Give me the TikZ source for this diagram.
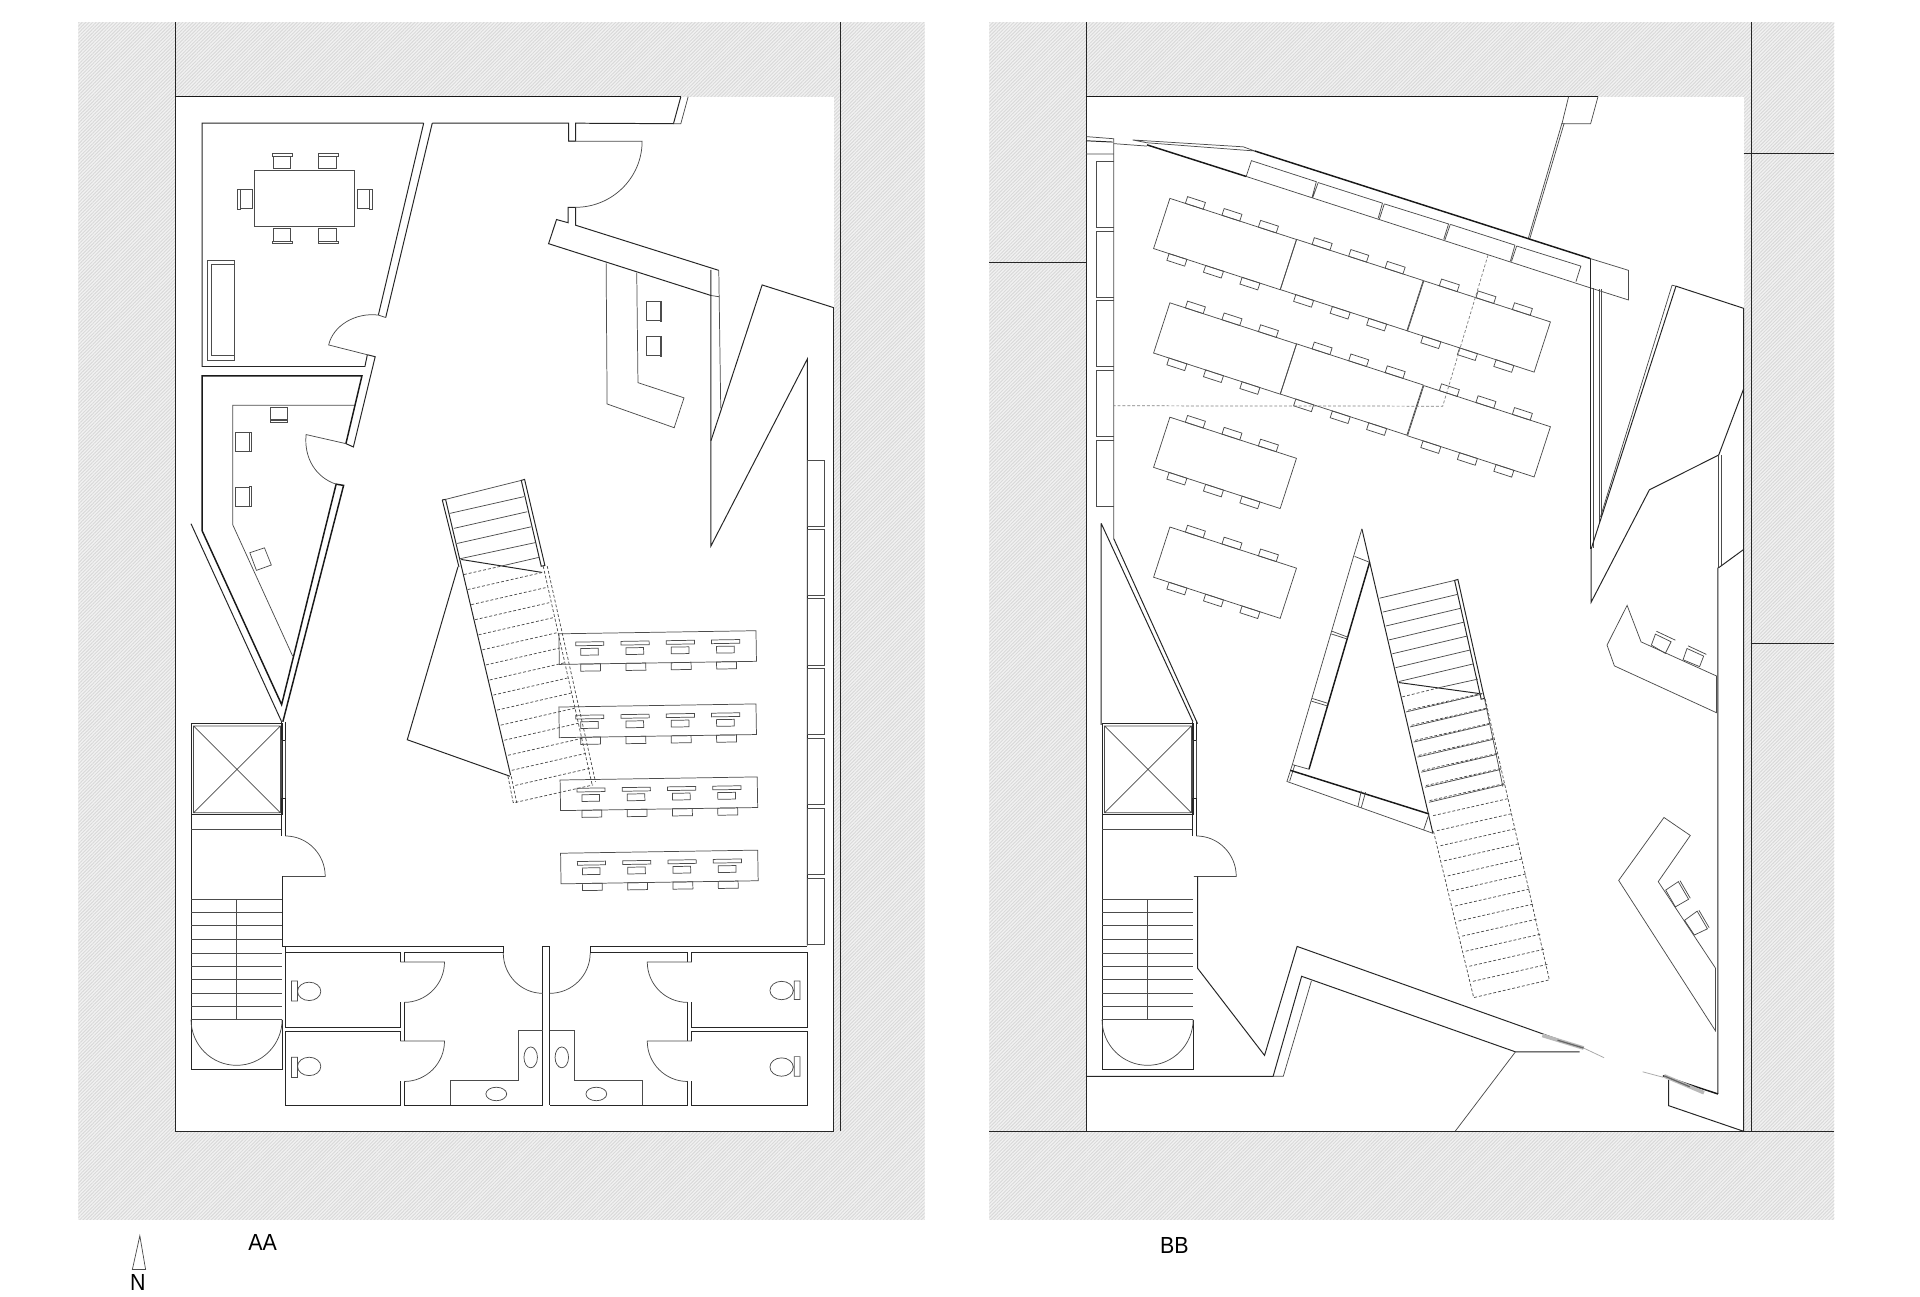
\documentclass[tikz,border=0pt]{standalone}
\usepackage{fontspec}
\setmainfont{Liberation Sans}
\usetikzlibrary{patterns.meta}
\tikzset{
    hatchpanel/.style={fill=gray!10, postaction={pattern={Lines[angle=45,distance=2pt,line width=.8pt]}, pattern color=gray!30}},
    wallline/.style={line width=.8pt, black!85},
    heavyline/.style={line width=1.2pt, black!90},
    thinline/.style={line width=.6pt, black!70},
    greyline/.style={line width=.6pt, gray!70},
    dashline/.style={line width=.6pt, black!70, dash pattern=on 2.4pt off 1.6pt},
    planlabel/.style={font=\fontsize{19}{19}\selectfont, xscale=.92, inner sep=0pt},
    deskrow/.pic={
        \draw[thinline] (0,0) rectangle (161,25);
        \foreach \k in {0,1,2,3} {
            \draw[thinline] (13.6+37*\k,7) rectangle ++(23,3);
            \draw[thinline] (17.6+37*\k,12.3) rectangle ++(14.4,5.5);
            \draw[thinline] (17.4+37*\k,25) rectangle ++(16.2,5.8);
        }
    },
    tablebay/.pic={
        \draw[thinline] (0,0) rectangle (108.7,43.1);
        \foreach \k in {13.3,44.7,76} {
            \draw[thinline] (\k,0) rectangle ++(15.3,-5.8);
            \draw[thinline] (\k,43.1) rectangle ++(15.3,5.8);
        }
    },
    corestair/.pic={
        \draw[wallline] (156,591) -- (156,873) -- (230.5,873) -- (230.5,833);
        \draw[wallline] (156,591) rectangle (231,665.5);
        \draw[thinline] (158,592.8) rectangle (229,663.8) (158,592.8) -- (229,663.8) (229,592.8) -- (158,663.8);
        \draw[thinline] (156,677.5) -- (230,677.5);
        \draw[wallline] (230,589.4) -- (230,604.4) -- (233,604.4) -- (233,589.4);
        \draw[thinline] (230,604.4) -- (230,652) (233,604.4) -- (233,652);
        \draw[wallline] (230,682.7) -- (230,652) -- (233,652) -- (233,682.7);
        \draw[thinline] (233,682.7) arc [start angle=90, end angle=0, x radius=32.6pt, y radius=33pt] -- (231,715.7);
        \draw[thinline] (156,734.4) -- (230.5,734.4) (193,734.4) -- (193,832.6);
        \foreach \y in {745.4,756.1,767.1,778.2,789.1,800,811,821.6,832.6} {
            \draw[thinline] (156,\y) -- (230.5,\y);
        }
        \draw[thinline] (156,832.6) arc [start angle=180, end angle=360, x radius=37.2pt, y radius=37.4pt];
    },
}

\begin{document}
\begin{tikzpicture}[x=1pt, y=-1pt]
            \useasboundingbox (0,0) rectangle (1568,1058.4);
            \path[hatchpanel] (64,18) rectangle (755,996);
            \path[hatchpanel] (808,18) rectangle (1498,996);
            \fill[white] (143,79) rectangle (681,924);
            \fill[white] (887,79) rectangle (1424,924);

            \draw[wallline] (143,18) -- (143,924) -- (681,924) -- (681,251.3);
            \draw[wallline] (686,18) -- (686,924);
            \draw[heavyline] (143,79) -- (556,79);

            \draw[wallline] (556,79) -- (550,101) -- (470,100.6) -- (470,115.3);
            \draw[thinline] (562,79) -- (556,101) -- (550,101);
            \draw[wallline] (346,100.6) -- (165,100.6) -- (165,299.3) -- (298,299.3) -- (300,289.7);
            \draw[wallline] (346,100.6) -- (309,257.3) (353,100.6) -- (315,259.3) (353,100.6) -- (464.4,100.6) -- (464.4,115.3) -- (470,115.3);
            \draw[thinline] (464.4,115.3) -- (524.4,115.3) arc [start angle=0, end angle=-90, x radius=54.4pt, y radius=54pt];
            \draw[wallline] (470,169.3) -- (470,183.9) -- (587,220.8) (470,169.3) -- (464,169.3) -- (464,181.9) -- (454.5,179.3) -- (448,199) -- (580.6,241.3);
            \draw[wallline] (580.6,220.3) -- (580.6,445.9) -- (659.4,293) -- (659.4,772);
            \draw[thinline] (587,220.8) -- (588.6,333.4) (580.6,241.3) -- (587,242.3);
            \draw[wallline] (580.6,360) -- (622.4,232.7) -- (681,251.3);

            \foreach \y in {376,432,489,546,603,660,717} {
                \draw[thinline] (659.4,\y) rectangle (673.5,\y+54);
            }

            \draw[thinline] (300,289.7) -- (268.4,281.7) .. controls (272,266) and (290,255) .. (309,257.3) -- (315,259.3);
            \draw[wallline] (300,289.7) -- (306.4,291.3) -- (288.6,365) -- (282.5,362.3);
            \draw[heavyline] (282.5,362.3) -- (295.6,306.9) -- (165,306.9) -- (165,433.3) -- (230,575.4) -- (274.5,395.4) -- (280.6,396.4) -- (231,589.4);
            \draw[thinline] (282.5,362.3) -- (250,354.9) .. controls (248,374) and (258,390) .. (274.5,395.4);
            \draw[wallline] (156,427.7) -- (230,589.4);
            \draw[thinline] (289.5,330.9) -- (190,330.9) -- (190,428.4) -- (239,535.8);

            \draw[thinline] (208,139.1) rectangle (289.5,185.2);
            \draw[thinline] (223,127.9) rectangle (237.5,137.9) (222.5,125.5) rectangle (239,127.9);
            \draw[thinline] (260,127.9) rectangle (275,137.9) (260,125.5) rectangle (276.5,127.9);
            \draw[thinline] (223,186.5) rectangle (237.5,196.9) (222.5,196.9) rectangle (239,198.9);
            \draw[thinline] (260,186.5) rectangle (275,196.9) (260,196.9) rectangle (276.5,198.9);
            \draw[thinline] (196.2,154.9) rectangle (206.5,169.9) (194,154.4) rectangle (196.2,170.6);
            \draw[thinline] (292,154.9) rectangle (302,169.9) (302,154.4) rectangle (304.5,170.6);
            \draw[thinline] (169,212.3) rectangle (191.5,294) (172.3,216.1) rectangle (191.5,290.3);

            \draw[thinline] (495,215.1) -- (495.8,329.9) -- (550.6,349.3) -- (558.6,324.9) -- (521,312.5) -- (520,222.7);
            \draw[thinline] (527.7,246.3) rectangle (539,261.9) (539,245.8) rectangle (540.5,262.3);
            \draw[thinline] (527.7,275.1) rectangle (539,290.3) (539,274.6) rectangle (540.5,290.8);
            \draw[thinline] (220.6,332.7) rectangle (235,342.7) (220.6,343.4) rectangle (235,345.3);
            \draw[thinline] (192.5,353.3) rectangle (203.3,368.5) (203.3,352.9) rectangle (205,368.9);
            \draw[thinline] (192.5,397.7) rectangle (203.3,413.4) (203.3,397.3) rectangle (205,413.8);
            \draw[thinline] (204,451.4) -- (216,447.4) -- (221.6,461.4) -- (209.4,465.8) -- cycle;

            \draw[wallline] (361.2,408.3) -- (374.8,462.9) (363.9,407.8) -- (417,633) (361.2,408.3) -- (363.9,407.8);
            \draw[thinline] (363.9,407.8) -- (425.7,392.3);
            \draw[wallline] (425.7,392.3) -- (442,462.4) -- (445,461.8) -- (428.4,391.5) -- cycle;
            \draw[thinline] (367.2,419.3) -- (427.8,405.6) (370.7,431.5) -- (430.6,417.9) (373.4,443.8) -- (433.8,430.2) (375.6,456.3) -- (436.8,443.2) (410.2,462.1) -- (440,455.2);
            \draw[wallline] (376.7,456.9) -- (442.8,467.5);
            \draw[wallline] (374,462.9) -- (332.6,604.1) -- (416.4,633.9);
            \draw[dashline] (378.9,469.2) -- ++(31,-7);
            \foreach \i in {1,...,14} {
                \draw[dashline] ({378.9+3*\i},{469.2+12.3*\i}) -- ++(60.6,-13.9);
            }
            \draw[dashline] (443.6,462.3) -- (483.6,641) (446.9,462.3) -- (486.3,638.4) (421,655.3) -- (484.4,641);
            \draw[dashline] (414.8,633.9) -- (419.1,655.3) -- (421.9,655.3) -- (417.5,633.9);

            \pic[rotate=.9] at (456.4,517.6) {deskrow};
            \pic[rotate=.9] at (456.4,577.4) {deskrow};
            \pic[rotate=.9] at (457.4,637) {deskrow};
            \pic[rotate=.9] at (457.8,696.8) {deskrow};

            \pic at (0,0) {corestair};
            \pic at (744,0) {corestair};

            \draw[wallline] (231,715.7) -- (231,773.2) -- (411,773.2) -- (411,778.2);
            \draw[wallline] (233,773.2) -- (233,778.2) (482,778.2) -- (482,773.2) -- (659.4,773.2);
            \draw[wallline] (443.3,902.7) -- (443.3,773.2) -- (449,773.2) -- (449,902.7);
            \draw[thinline] (411,778.2) arc [start angle=180, end angle=270, x radius=32.3pt, y radius=33pt];
            \draw[thinline] (482,778.2) arc [start angle=0, end angle=-90, x radius=33pt, y radius=33pt];

            \draw[wallline] (327,785.6) -- (327,778.2) -- (233,778.2) -- (233,839.2) -- (327,839.2) -- (327,818.5);
            \draw[wallline] (327,850.2) -- (327,842.5) -- (233,842.5) -- (233,902.7) -- (327,902.7) -- (327,882.4);
            \draw[wallline] (330,785.6) -- (330,778.2) -- (411,778.2) (330,818.5) -- (330,850.2) (330,882.4) -- (330,902.7) -- (443.3,902.7);
            \draw[thinline] (327,785.6) -- (363,785.6) arc [start angle=0, end angle=-90, radius=33pt];
            \draw[thinline] (327,850.2) -- (363,850.2) arc [start angle=0, end angle=-90, radius=33pt];
            \draw[wallline] (561.4,785.6) -- (561.4,778.2) -- (482,778.2) (561.4,818.5) -- (561.4,850.2) (561.4,882.4) -- (561.4,902.7) -- (449,902.7);
            \draw[wallline] (565,785.6) -- (565,778.2) -- (659.4,778.2) -- (659.4,839.2) -- (565,839.2) -- (565,818.5);
            \draw[wallline] (565,850.2) -- (565,842.5) -- (659.4,842.5) -- (659.4,902.7) -- (565,902.7) -- (565,882.4);
            \draw[thinline] (565,785.6) -- (528.6,785.6) arc [start angle=180, end angle=270, radius=33pt];
            \draw[thinline] (565,850.2) -- (528.6,850.2) arc [start angle=180, end angle=270, radius=33pt];

            \draw[thinline] (368,902.7) -- (368,882.4) -- (423.6,882.4) -- (423.6,841.2) -- (443.3,841.2);
            \draw[thinline] (449,841.2) -- (469,841.2) -- (469,882.4) -- (524.4,882.4) -- (524.4,902.7);
            \draw[thinline] (433.4,863.5) ellipse [x radius=5.5pt, y radius=8.5pt] (458.8,863.5) ellipse [x radius=5.5pt, y radius=8.5pt];
            \draw[thinline] (405.3,893.4) ellipse [x radius=8.5pt, y radius=5.5pt] (487,893.4) ellipse [x radius=8.5pt, y radius=5.5pt];
            \draw[thinline] (238,801.2) rectangle (243,817.5) (252.5,809.6) ellipse [x radius=9.5pt, y radius=7.5pt];
            \draw[thinline] (238,863.5) rectangle (243,879.9) (252.5,870.9) ellipse [x radius=9.5pt, y radius=7.5pt];
            \draw[thinline] (648.6,801.2) rectangle (653.3,816.2) (638.3,808.9) ellipse [x radius=9.5pt, y radius=7.5pt];
            \draw[thinline] (648.6,862.9) rectangle (653.3,878.9) (638.3,871.4) ellipse [x radius=9.5pt, y radius=7.5pt];

            \draw[thinline] (108.1,1036.7) -- (114.2,1009.2) -- (118.9,1036.7) -- cycle;
            \node[planlabel] (northlabel) at (112.5,1047) {N};
            \node[planlabel] (aalabel) at (214.5,1014.4) {AA};
            \node[planlabel] (bblabel) at (959,1016.8) {BB};

            \draw[wallline] (887,18) -- (887,924);
            \draw[wallline] (808,214) -- (887,214) (808,924) -- (1498,924);
            \draw[wallline] (1430,18) -- (1430,924) (1424,125.6) -- (1498,125.6) (1430,525.6) -- (1498,525.6);
            \draw[heavyline] (887,79) -- (1305,79);
            \draw[thinline] (1281,79) -- (1275.6,101) -- (1299,101) -- (1305,79);
            \draw[thinline] (1275.6,100.6) -- (1248,195) (1277.4,100.6) -- (1249.3,195);

            \draw[thinline] (887.6,111.6) -- (909.6,113.3) -- (909.6,440);
            \draw[wallline] (887.6,115) -- (908.6,116);
            \draw[thinline] (887,125.7) -- (909.6,125.7) (909.6,117.3) -- (936.7,119.3);
            \foreach \y in {132,188.7,245.6,302.6,359.3} {
                \draw[thinline] (909.6,\y) -- (895,\y) -- (895,\y+54) -- (909.6,\y+54);
            }
            \draw[thinline] (925,114.3) -- (1015.3,119.9) -- (1024.7,123.3) -- (936.7,116.6) -- cycle;
            \draw[heavyline] (936.7,118.3) -- (1017.7,144.1);
            \draw[heavyline] (1024.7,123.3) -- (1298.5,211.1);
            \draw[thinline] (1017.7,144.1) -- (1298.5,235) (1298.5,235) -- (1330,245);
            \draw[thinline] (1017.7,144.1) -- (1022,131.2) -- (1075,148.4) -- (1071.5,161.3) (1076.5,149.1) -- (1072,161.6);
            \draw[thinline] (1076.5,149.1) -- (1129,165.9) -- (1125.5,178.3) (1130.5,166.5) -- (1126.5,178.9);
            \draw[thinline] (1130.5,166.5) -- (1183,182.9) -- (1179,195.5) (1184.4,183.2) -- (1180,195.9);
            \draw[thinline] (1184.4,183.2) -- (1237.2,200.2) -- (1233.4,213.5) (1238.6,200.9) -- (1234.4,213.5);
            \draw[thinline] (1238.6,200.9) -- (1291,217.3) -- (1287,230);
            \draw[wallline] (1298.5,211.1) -- (1298.5,448.4);
            \draw[thinline] (1298.5,211.1) -- (1330,220.8) -- (1330,245);
            \draw[thinline] (1301,235.3) -- (1301,447.4) (1305.9,236.3) -- (1305.9,427.4) (1307.8,236.3) -- (1307.8,422.4);
            \draw[thinline] (1365.5,232.9) -- (1307,422.2) (1365.5,232.9) -- (1368.7,233.7);
            \draw[wallline] (1368.7,233.7) -- (1424,251.8) -- (1424,924);
            \draw[wallline] (1368.7,233.7) -- (1299.4,448.4) -- (1299.4,491.8) -- (1347,400) -- (1403.6,371.6) -- (1424,317.4);
            \draw[thinline] (1403.6,371.6) -- (1403.6,463.6) (1405.5,371.6) -- (1405.5,462.4);
            \draw[wallline] (1403.6,463.6) -- (1424,448.7) (1403,463.6) -- (1403,893.4);
            \draw[heavyline] (1403,893.4) -- (1358,878.6);

            \draw[thinline] (1328.8,494.4) -- (1312.4,526.8) -- (1318.4,543.8) -- (1401.7,582) -- (1401.7,552) -- (1340.2,524.2) -- cycle;
            \draw[thinline] (1351.9,517.9) -- (1364.7,524.1) -- (1360,533.6) -- (1348.6,526.8) -- cycle (1352.7,515.5) -- (1368.2,522.8);
            \draw[thinline] (1377.7,529.6) -- (1391.3,535.8) -- (1388,544.4) -- (1374.5,538.8) -- cycle (1378.5,527.4) -- (1393.5,534.4);
            \draw[thinline] (1358.9,667.6) -- (1380.4,682.3) -- (1354.2,720) -- (1401,790.7) -- (1401,841.9) -- (1321.9,719) -- cycle;
            \draw[thinline] (1360.3,726.9) -- (1370.6,720) -- (1379,734.4) -- (1368.2,740.6) -- cycle (1372,719.2) -- (1380.4,733.6);
            \draw[thinline] (1375.7,751.6) -- (1386,744.1) -- (1394.4,758.5) -- (1383.7,763.6) -- cycle (1387.4,743.3) -- (1395.8,757.6);

            \pic[rotate=-18] at (955.4,162) {tablebay};
            \pic[rotate=-18] at (1058.9,195.5) {tablebay};
            \pic[rotate=-18] at (1162.8,229.3) {tablebay};
            \pic[rotate=-18] at (955.4,247.3) {tablebay};
            \pic[rotate=-18] at (1058.9,280.8) {tablebay};
            \pic[rotate=-18] at (1162.8,314.9) {tablebay};
            \pic[rotate=-18] at (955.4,340.7) {tablebay};
            \pic[rotate=-18] at (955.4,430.4) {tablebay};
            \draw[dashline, gray] (1215.2,208.3) -- (1178.2,331.7) -- (909.6,331.4);

            \draw[wallline] (1112.2,431.9) -- (1170.2,680.5);
            \draw[thinline] (1112.2,431.9) -- (1105.4,454.4) -- (1055.4,624.4) -- (1051,638.2) -- (1170.2,680.5);
            \draw[thinline] (1106.3,454.4) -- (1118.5,459.2);
            \draw[heavyline] (1118.5,459.2) -- (1069,628.2);
            \draw[thinline] (1087.8,515.5) -- (1100.8,520.4) (1087.2,517.7) -- (1100,521.8) (1071.7,570.4) -- (1084.5,574.4) (1071,572.6) -- (1083.7,576.4);
            \draw[thinline] (1055.4,624.4) -- (1069,628.2) (1057.3,625) -- (1053.2,638);
            \draw[heavyline] (1053.8,629.1) -- (1167,664.7);
            \draw[thinline] (1111.7,645.8) -- (1109,658.7) (1115.2,647) -- (1111.7,659.5) (1167,664.7) -- (1162.6,677.8);

            \draw[thinline] (1126.7,488.5) -- (1187.9,474);
            \draw[wallline] (1187.9,474) -- (1209.6,571) -- (1212.3,570.4) -- (1190.6,473.2) -- cycle;
            \draw[thinline] (1212.3,570.4) -- (1227.3,642.3);
            \foreach \i in {1,...,6} {
                \draw[thinline] ({1126.7+2.6*\i},{488.5+11.35*\i}) -- ++(61.2,-14.5);
            }
            \draw[wallline] (1142.4,557.4) -- (1208.2,566.4);
            \draw[dashline] (1145.2,569.1) -- ++(30,-7.5);
            \draw[thinline] (1175.2,561.6) -- (1206.9,554.6);
            \foreach \i in {1,...,7} {
                \draw[thinline] ({1145.2+3.1*\i},{569.1+12.3*\i}) -- ++(61.7,-14.5);
            }
            \foreach \i in {0,...,18} {
                \draw[dashline] ({1149.8+2.95*\i},{580+12.3*\i}) -- ++(61.5,-14);
            }
            \draw[dashline] (1170.7,679) -- (1203.5,814.7) -- (1265.3,800.2) -- (1212.8,570.4);

            \draw[wallline] (978,591) -- (909.6,440) (899.3,427.4) -- (974.2,589.4) (899.3,427.4) -- (899.3,592);
            \draw[wallline] (978,715.7) -- (978,790.7) -- (1032.7,861.9) -- (1059.3,772.9) -- (1292.4,855.9);
            \draw[wallline] (887,879) -- (1039.7,879) -- (1063,797.3) -- (1237.6,859) -- (1290,859);
            \draw[thinline] (1039.7,879) -- (1048,879) -- (1071,801);
            \draw[thinline] (1237.6,859) -- (1188.5,923.7);
            \draw[line width=3pt, gray!55] (1259.6,845.6) -- (1293.3,855.9);
            \draw[line width=1pt, black!60] (1272,849.5) -- (1293.3,855.9);
            \draw[greyline] (1293.3,855.9) -- (1310,863.8) (1341.5,875.3) -- (1358,879.7);
            \draw[line width=3pt, gray!55] (1359,878.6) -- (1391.6,892.4);
            \draw[line width=1pt, black!60] (1359,878.6) -- (1380,887.5);
            \draw[wallline] (1362.6,882) -- (1362.6,902.9) -- (1423.4,923.7);
        \end{tikzpicture}
\end{document}
